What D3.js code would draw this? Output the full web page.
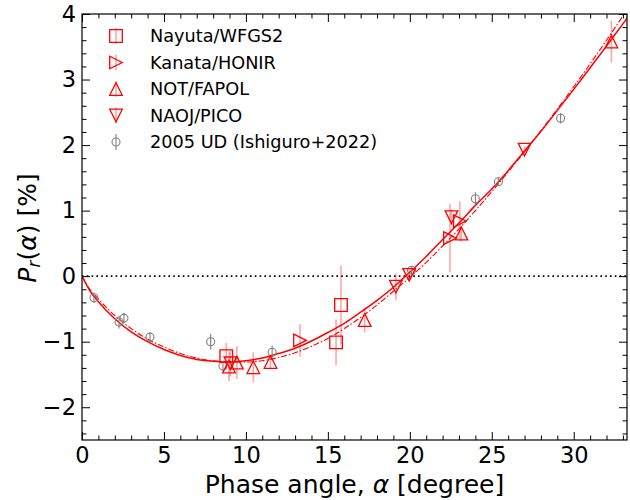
<!DOCTYPE html>
<html>
<head>
<meta charset="utf-8">
<script src="https://cdn.jsdelivr.net/npm/d3@7"></script>
<style>
  body { margin: 0; background: #fff; }
  svg { font-family: "DejaVu Sans", sans-serif; }
</style>
</head>
<body>
<div id="chart"></div>
<script>
// 2005 UD (Ishiguro+2022)
const udAlpha = [0.73, 2.26, 2.56, 4.15, 7.85, 8.6, 11.6, 20.1, 24.0, 25.4, 29.2];
const udP = [-0.33, -0.70, -0.64, -0.93, -1.00, -1.37, -1.16, 0.09, 1.18, 1.44, 2.41];
const udErr = [0.08, 0.10, 0.08, 0.07, 0.12, 0.08, 0.10, 0.06, 0.10, 0.06, 0.08];

// Nayuta/WFGS2
const nayutaAlpha = [8.8, 15.5, 15.8];
const nayutaP = [-1.22, -1.01, -0.44];
const nayutaErr = [0.2, 0.35, 0.6];

// Kanata/HONIR
const kanataAlpha = [13.3, 22.45, 23.05];
const kanataP = [-0.98, 0.58, 0.84];
const kanataErr = [0.25, 0.52, 0.3];

// NOT/FAPOL
const notAlpha = [8.97, 9.45, 10.45, 11.5, 17.25, 23.15, 32.3];
const notP = [-1.38, -1.32, -1.39, -1.31, -0.67, 0.65, 3.58];
const notErr = [0.22, 0.25, 0.23, 0.1, 0.19, 0.12, 0.32];

// NAOJ/PICO
const naojAlpha = [9.05, 19.15, 19.96, 22.54, 27.0];
const naojP = [-1.33, -0.16, 0.02, 0.90, 1.93];
const naojErr = [0.2, 0.2, 0.08, 0.12, 0.06];

// model curves
const curveAlpha = [0, 0.5, 1, 2, 3, 4, 5, 6, 7, 8, 9, 10, 11, 12, 13, 14, 15, 16, 17, 18,
  19, 20, 21, 22, 23, 24, 25, 26, 27, 28, 29, 30, 31, 32, 33, 33.3];
const solidP = [0, -0.23, -0.39, -0.65, -0.85, -1.00, -1.12, -1.21, -1.27, -1.30, -1.31, -1.29,
  -1.25, -1.18, -1.10, -0.99, -0.86, -0.72, -0.55, -0.37, -0.17, 0.06, 0.30, 0.56, 0.81, 1.08,
  1.33, 1.61, 1.91, 2.21, 2.53, 2.85, 3.18, 3.51, 3.85, 3.95];
const dashdotP = [0, -0.21, -0.35, -0.60, -0.80, -0.96, -1.08, -1.18, -1.25, -1.29, -1.31, -1.31,
  -1.29, -1.24, -1.17, -1.07, -0.95, -0.80, -0.63, -0.44, -0.23, -0.02, 0.21, 0.46, 0.72, 1.00,
  1.29, 1.59, 1.90, 2.22, 2.55, 2.89, 3.24, 3.60, 3.97, 4.08];

const xMajor = [0, 5, 10, 15, 20, 25, 30];
const yMajor = [-2, -1, 0, 1, 2, 3, 4];

const legendLabels = ['Nayuta/WFGS2', 'Kanata/HONIR', 'NOT/FAPOL', 'NAOJ/PICO', '2005 UD (Ishiguro+2022)'];

// dimensions
const w = 630, h = 500;
const m_left = 82, m_right = 627, m_top = 14, m_bottom = 440;

const x_scale = d3.scaleLinear().domain([0, 33.25]).range([m_left, m_right]);
const y_scale = d3.scaleLinear().domain([-2.5, 4]).range([m_bottom, m_top]);

const svg = d3.select('#chart').append('svg')
  .attr('width', w).attr('height', h);

svg.append('clipPath').attr('id', 'clip')
  .append('rect').attr('x', m_left).attr('y', m_top)
  .attr('width', m_right - m_left).attr('height', m_bottom - m_top);

const plot = svg.append('g').attr('clip-path', 'url(#clip)');

// zero line
plot.append('line')
  .attr('x1', m_left).attr('x2', m_right)
  .attr('y1', y_scale(0)).attr('y2', y_scale(0))
  .attr('stroke', '#000').attr('stroke-width', 1.6)
  .attr('stroke-dasharray', '1.6,3.2');

// curves
const line = d3.line()
  .x((d, i) => x_scale(curveAlpha[i]))
  .y(d => y_scale(d))
  .curve(d3.curveMonotoneX);

plot.append('path').datum(solidP)
  .attr('d', line).attr('fill', 'none')
  .attr('stroke', 'red').attr('stroke-width', 1.5);

plot.append('path').datum(dashdotP)
  .attr('d', line).attr('fill', 'none')
  .attr('stroke', 'red').attr('stroke-width', 1.1)
  .attr('stroke-dasharray', '6,2,1.5,2');

// marker shapes
const r = 6.3;
const shapes = {
  square: `M${-r},${-r}H${r}V${r}H${-r}Z`,
  up: `M0,${-r}L${r},${r}L${-r},${r}Z`,
  down: `M0,${r}L${r},${-r}L${-r},${-r}Z`,
  right: `M${r},0L${-r},${-r}L${-r},${r}Z`
};

function drawSeries(alpha, p, err, shape) {
  const data = alpha.map((a, i) => ({ a: a, p: p[i], e: err[i] }));
  plot.append('g').selectAll('line').data(data).enter().append('line')
    .attr('x1', d => x_scale(d.a)).attr('x2', d => x_scale(d.a))
    .attr('y1', d => y_scale(d.p - d.e)).attr('y2', d => y_scale(d.p + d.e))
    .attr('stroke', 'rgba(255,0,0,0.35)').attr('stroke-width', 1.6);
  plot.append('g').selectAll('path').data(data).enter().append('path')
    .attr('d', shapes[shape])
    .attr('transform', d => `translate(${x_scale(d.a)},${y_scale(d.p)})`)
    .attr('fill', 'none').attr('stroke', 'red').attr('stroke-width', 1.3);
}

// 2005 UD
const udData = udAlpha.map((a, i) => ({ a: a, p: udP[i], e: udErr[i] }));
plot.append('g').selectAll('line').data(udData).enter().append('line')
  .attr('x1', d => x_scale(d.a)).attr('x2', d => x_scale(d.a))
  .attr('y1', d => y_scale(d.p - d.e)).attr('y2', d => y_scale(d.p + d.e))
  .attr('stroke', 'grey').attr('stroke-width', 1.1);
plot.append('g').selectAll('circle').data(udData).enter().append('circle')
  .attr('cx', d => x_scale(d.a)).attr('cy', d => y_scale(d.p))
  .attr('r', 4).attr('fill', 'none').attr('stroke', 'grey').attr('stroke-width', 1.1);

drawSeries(nayutaAlpha, nayutaP, nayutaErr, 'square');
drawSeries(kanataAlpha, kanataP, kanataErr, 'right');
drawSeries(notAlpha, notP, notErr, 'up');
drawSeries(naojAlpha, naojP, naojErr, 'down');

// axes, ticks pointing inward on all four sides
function styleAxis(g) {
  g.select('.domain').remove();
  g.selectAll('line').attr('stroke', '#000').attr('stroke-width', 1);
  g.selectAll('text').attr('font-size', 22.5).attr('fill', '#000')
    .attr('font-family', '"DejaVu Sans", sans-serif');
}

const xMinor = d3.range(0, 34, 1).filter(v => v % 5 !== 0);
const yMinor = d3.range(-2.4, 4, 0.2).map(v => Math.round(v * 10) / 10)
  .filter(v => Math.abs(v - Math.round(v)) > 0.01);

svg.append('g').attr('transform', `translate(0,${m_bottom})`)
  .call(d3.axisBottom(x_scale).tickValues(xMajor).tickFormat(d3.format('d'))
    .tickSizeInner(-8).tickSizeOuter(0).tickPadding(7))
  .call(styleAxis);
svg.append('g').attr('transform', `translate(0,${m_bottom})`)
  .call(d3.axisBottom(x_scale).tickValues(xMinor).tickFormat('')
    .tickSizeInner(-4.5).tickSizeOuter(0))
  .call(styleAxis);
svg.append('g').attr('transform', `translate(0,${m_top})`)
  .call(d3.axisTop(x_scale).tickValues(xMajor).tickFormat('')
    .tickSizeInner(-8).tickSizeOuter(0))
  .call(styleAxis);
svg.append('g').attr('transform', `translate(0,${m_top})`)
  .call(d3.axisTop(x_scale).tickValues(xMinor).tickFormat('')
    .tickSizeInner(-4.5).tickSizeOuter(0))
  .call(styleAxis);

svg.append('g').attr('transform', `translate(${m_left},0)`)
  .call(d3.axisLeft(y_scale).tickValues(yMajor).tickFormat(d3.format('d'))
    .tickSizeInner(-8).tickSizeOuter(0).tickPadding(6))
  .call(styleAxis);
svg.append('g').attr('transform', `translate(${m_left},0)`)
  .call(d3.axisLeft(y_scale).tickValues(yMinor).tickFormat('')
    .tickSizeInner(-4.5).tickSizeOuter(0))
  .call(styleAxis);
svg.append('g').attr('transform', `translate(${m_right},0)`)
  .call(d3.axisRight(y_scale).tickValues(yMajor).tickFormat('')
    .tickSizeInner(-8).tickSizeOuter(0))
  .call(styleAxis);
svg.append('g').attr('transform', `translate(${m_right},0)`)
  .call(d3.axisRight(y_scale).tickValues(yMinor).tickFormat('')
    .tickSizeInner(-4.5).tickSizeOuter(0))
  .call(styleAxis);

// frame
svg.append('rect')
  .attr('x', m_left).attr('y', m_top)
  .attr('width', m_right - m_left).attr('height', m_bottom - m_top)
  .attr('fill', 'none').attr('stroke', '#000').attr('stroke-width', 1.2);

// axis labels
svg.append('text')
  .attr('x', (m_left + m_right) / 2).attr('y', 493)
  .attr('text-anchor', 'middle').attr('font-size', 25)
  .html('Phase angle, <tspan font-style="italic">α</tspan> [degree]');

svg.append('text')
  .attr('transform', 'translate(36,228) rotate(-90)')
  .attr('text-anchor', 'middle').attr('font-size', 25)
  .html('<tspan font-style="italic">P</tspan><tspan font-style="italic" font-size="17" dy="4">r</tspan><tspan dy="-4">(</tspan><tspan font-style="italic">α</tspan>) [%]');

// legend
const legendY = [36, 62.5, 89, 115.5, 142];
const legendShapes = ['square', 'right', 'up', 'down', 'circle'];
const legend = svg.append('g');
legendLabels.forEach((label, i) => {
  const y = legendY[i];
  const isUD = legendShapes[i] === 'circle';
  legend.append('line')
    .attr('x1', 116).attr('x2', 116).attr('y1', y - 8).attr('y2', y + 8)
    .attr('stroke', isUD ? 'grey' : 'rgba(255,0,0,0.35)').attr('stroke-width', isUD ? 1.1 : 1.6);
  if (isUD) {
    legend.append('circle').attr('cx', 116).attr('cy', y).attr('r', 4)
      .attr('fill', 'none').attr('stroke', 'grey').attr('stroke-width', 1.1);
  } else {
    legend.append('path').attr('d', shapes[legendShapes[i]])
      .attr('transform', `translate(116,${y})`)
      .attr('fill', 'none').attr('stroke', 'red').attr('stroke-width', 1.3);
  }
  legend.append('text')
    .attr('x', 150).attr('y', y).attr('dy', '0.36em')
    .attr('font-size', 17.7).attr('fill', '#000')
    .text(label);
});
</script>
</body>
</html>
